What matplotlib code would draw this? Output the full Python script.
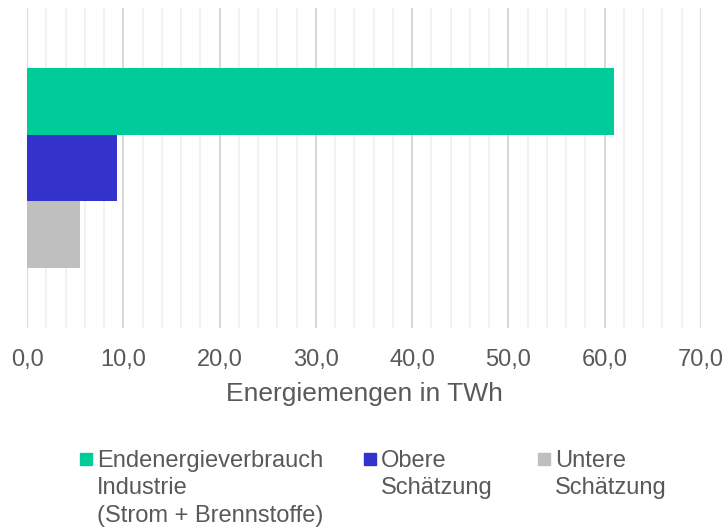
import numpy as np
import matplotlib.pyplot as plt
from matplotlib.patches import Rectangle
from matplotlib.ticker import MultipleLocator, FuncFormatter

plt.rcParams['font.family'] = ['Liberation Sans', 'DejaVu Sans']

# data
series = ['Endenergieverbrauch\nIndustrie\n(Strom + Brennstoffe)', 'Obere\nSchätzung', 'Untere\nSchätzung']
values = [61.0, 9.35, 5.5]
colors = ['#00cc99', '#3333cc', '#bfbfbf']
xlabel = 'Energiemengen in TWh'

txt = '#595959'
fig = plt.figure(figsize=(7.26, 5.32), dpi=100)
ax = fig.add_axes([27 / 726, 1 - 328 / 532, 674 / 726, 320 / 532])

h = 0.208
offs = (np.arange(len(values)) - 1) * h
for i in range(len(values)):
    ax.barh(offs[i], values[i], height=h, color=colors[i], zorder=3)

ax.set_xlim(0, 70)
ax.set_ylim(0.5, -0.5)
ax.xaxis.set_major_locator(MultipleLocator(10))
ax.xaxis.set_minor_locator(MultipleLocator(2))
ax.xaxis.set_major_formatter(FuncFormatter(lambda v, p: ('%.1f' % v).replace('.', ',')))
ax.grid(which='major', axis='x', color='#d9d9d9', lw=1.5, zorder=0)
ax.grid(which='minor', axis='x', color='#f2f2f2', lw=1.5, zorder=0)
ax.set_yticks([])
for s in ax.spines.values():
    s.set_visible(False)
ax.tick_params(axis='x', which='both', length=0, pad=15, labelsize=17, labelcolor=txt)
ax.set_xlabel(xlabel, fontsize=19, color=txt, labelpad=8)

# legend by hand
lx = [80, 364, 538]
for i in range(len(series)):
    fig.patches.append(Rectangle((lx[i] / 726, 1 - 465 / 532), 12 / 726, 12 / 532,
                                 transform=fig.transFigure, color=colors[i]))
    fig.text((lx[i] + 17) / 726, 1 - 450 / 532, series[i], fontsize=17, color=txt,
             va='top', ha='left', linespacing=1.32)

fig.savefig('out.png', dpi=100)
